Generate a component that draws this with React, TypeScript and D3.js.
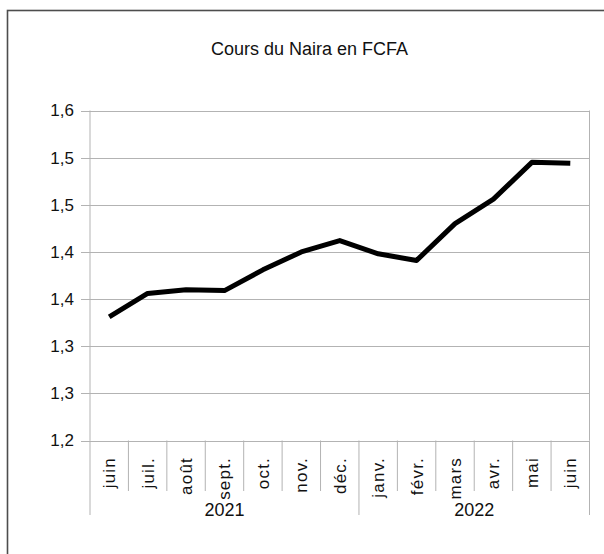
import React, { useRef, useEffect } from "react";
import * as d3 from "d3";

// Chart data
const months = ["juin", "juil.", "août", "sept.", "oct.", "nov.", "déc.", "janv.", "févr.", "mars", "avr.", "mai", "juin"];
const monthYears = [2021, 2021, 2021, 2021, 2021, 2021, 2021, 2022, 2022, 2022, 2022, 2022, 2022];
const years = [2021, 2022];
const values = [1.331, 1.356, 1.36, 1.359, 1.381, 1.4, 1.412, 1.398, 1.391, 1.43, 1.456, 1.495, 1.494];
const yTickValues = [1.2, 1.25, 1.3, 1.35, 1.4, 1.45, 1.5, 1.55];
const yTickLabels = ["1,2", "1,3", "1,3", "1,4", "1,4", "1,5", "1,5", "1,6"];
const title = "Cours du Naira en FCFA";

const App = () => {
  const svgRef = useRef<SVGSVGElement>(null);

  useEffect(() => {
    const dims = { width: 604, height: 554, left: 90, right: 589.5, top: 110.5, bottom: 440.5 };
    const font = "'Liberation Sans', Arial, sans-serif";

    const svg = d3.select(svgRef.current);
    svg.selectAll("*").remove();

    // outer frame (only left and top edges are inside the picture)
    svg
      .append("rect")
      .attr("x", 7.5)
      .attr("y", 10.5)
      .attr("width", 620)
      .attr("height", 600)
      .attr("fill", "white")
      .attr("stroke", "#4d4d4d")
      .attr("stroke-width", 1.6);

    svg
      .append("text")
      .attr("x", 309.5)
      .attr("y", 55)
      .attr("text-anchor", "middle")
      .style("font-family", font)
      .style("font-size", "18px")
      .attr("fill", "#111")
      .text(title);

    const keys = months.map((m, i) => `${monthYears[i]}-${i}`);

    const xScale = d3.scaleBand<string>().domain(keys).range([dims.left, dims.right]).padding(0);
    const yScale = d3.scaleLinear().domain([1.2, 1.55]).range([dims.bottom, dims.top]);

    const grid = svg.append("g");

    // horizontal gridlines + tick marks
    grid
      .selectAll("line.h")
      .data(yTickValues)
      .join("line")
      .attr("x1", dims.left - 9)
      .attr("x2", dims.right)
      .attr("y1", (d) => Math.round(yScale(d)) + 0.5)
      .attr("y2", (d) => Math.round(yScale(d)) + 0.5)
      .attr("stroke", "#b3b3b3")
      .attr("stroke-width", 1);

    // vertical frame lines of the plot
    [dims.left, dims.right].forEach((x) => {
      grid
        .append("line")
        .attr("x1", x)
        .attr("x2", x)
        .attr("y1", dims.top)
        .attr("y2", dims.bottom)
        .attr("stroke", "#b3b3b3");
    });

    // y labels
    svg
      .append("g")
      .selectAll("text")
      .data(yTickValues)
      .join("text")
      .attr("x", 74)
      .attr("y", (d) => yScale(d))
      .attr("dy", "0.35em")
      .attr("text-anchor", "end")
      .style("font-family", font)
      .style("font-size", "17px")
      .attr("fill", "#111")
      .text((d, i) => yTickLabels[i]);

    // category separators
    const bw = xScale.bandwidth();
    const boundaries = keys.map((k) => xScale(k)!).concat([dims.right]);
    svg
      .append("g")
      .selectAll("line")
      .data(boundaries)
      .join("line")
      .attr("x1", (d) => d)
      .attr("x2", (d) => d)
      .attr("y1", dims.bottom)
      .attr("y2", (d, i) => {
        const isYearEdge = i === 0 || i === boundaries.length - 1 || monthYears[i] !== monthYears[i - 1];
        return isYearEdge ? 515 : 491;
      })
      .attr("stroke", "#b3b3b3");

    // month labels
    svg
      .append("g")
      .selectAll("text")
      .data(months)
      .join("text")
      .attr("transform", (d, i) => `translate(${xScale(keys[i])! + bw / 2},457) rotate(-90)`)
      .attr("dy", "0.35em")
      .attr("text-anchor", "end")
      .style("font-family", font)
      .style("font-size", "17px")
      .style("letter-spacing", "1.2px")
      .attr("fill", "#111")
      .text((d) => d);

    // year labels
    svg
      .append("g")
      .selectAll("text")
      .data(years)
      .join("text")
      .attr("x", (y) => {
        const idx = keys.filter((k, i) => monthYears[i] === y);
        const x0 = xScale(idx[0])!;
        const x1 = xScale(idx[idx.length - 1])! + bw;
        return (x0 + x1) / 2;
      })
      .attr("y", 516)
      .attr("text-anchor", "middle")
      .style("font-family", font)
      .style("font-size", "18px")
      .attr("fill", "#111")
      .text((d) => d);

    // line
    const line = d3
      .line<number>()
      .x((d, i) => xScale(keys[i])! + bw / 2)
      .y((d) => yScale(d));

    svg
      .append("path")
      .datum(values)
      .attr("d", line)
      .attr("fill", "none")
      .attr("stroke", "#000")
      .attr("stroke-width", 5)
      .attr("stroke-linejoin", "round")
      .attr("stroke-linecap", "butt");
  }, []);

  return (
    <div style={{ position: "fixed", left: 0, top: 0, width: 604, height: 554, background: "white" }}>
      <svg ref={svgRef} width={604} height={554} />
    </div>
  );
};

export default App;
